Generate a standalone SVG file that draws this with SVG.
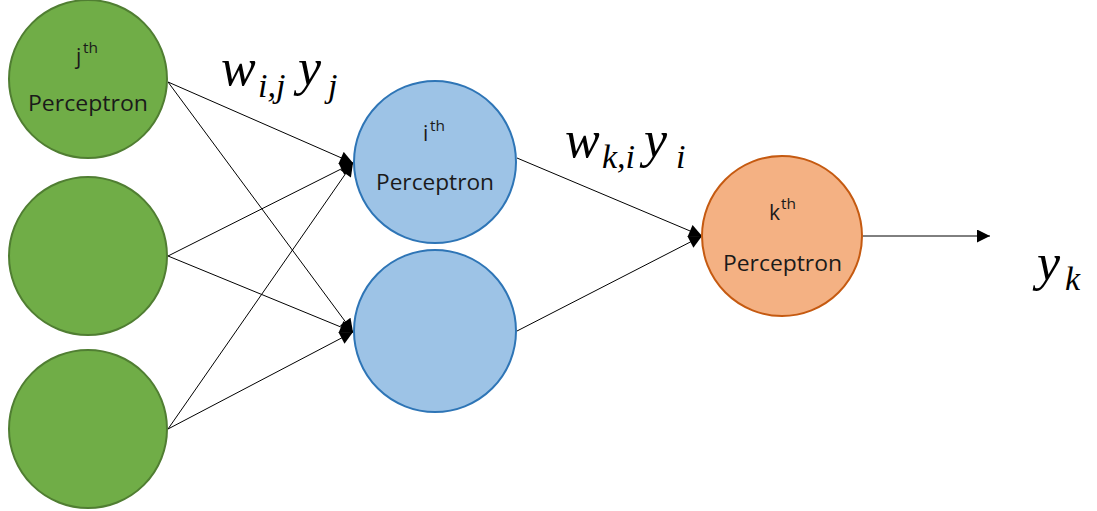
<svg xmlns="http://www.w3.org/2000/svg" width="1097" height="511" viewBox="0 0 1097 511">
  <style>
    .g { fill: #70AD47; stroke: #507E32; stroke-width: 2; }
    .b { fill: #9DC3E6; stroke: #2E75B6; stroke-width: 2; }
    .o { fill: #F4B183; stroke: #C55A11; stroke-width: 2; }
    .lbl { font-family: "Open Sans", "Liberation Sans", sans-serif; font-size: 21px; fill: #1a1a1a; }
    .sup { font-family: "Open Sans", "Liberation Sans", sans-serif; font-size: 14px; fill: #1a1a1a; }
    .m { font-family: "Liberation Serif", serif; font-style: italic; font-weight: normal; fill: #000; }
    .big { font-size: 52px; }
    .sub { font-size: 34px; }
    .edge { stroke: #000; stroke-width: 1; fill: none; marker-end: url(#arr); }
  </style>
  <defs>
    <marker id="arr" viewBox="0 0 10 10" refX="10" refY="5" markerWidth="15" markerHeight="13" markerUnits="userSpaceOnUse" orient="auto">
      <path d="M0,0 L10,5 L0,10 z" fill="#000"/>
    </marker>
  </defs>
  <rect width="1097" height="511" fill="#fff"/>
  <g id="connectors">
    <line class="edge" x1="168" y1="82" x2="353" y2="163"/>
    <line class="edge" x1="168" y1="82" x2="353" y2="332"/>
    <line class="edge" x1="168" y1="256" x2="353" y2="163"/>
    <line class="edge" x1="168" y1="256" x2="353" y2="332"/>
    <line class="edge" x1="168" y1="429" x2="353" y2="163"/>
    <line class="edge" x1="168" y1="429" x2="353" y2="332"/>
    <line class="edge" x1="517" y1="158" x2="702" y2="236"/>
    <line class="edge" x1="517" y1="331" x2="702" y2="236"/>
    <line class="edge" x1="863" y1="236" x2="990" y2="236"/>
  </g>
  <g id="node-j">
    <circle class="g" cx="88" cy="79" r="79"/>
    <text class="lbl" x="76" y="64">j</text>
    <text class="sup" x="83" y="53" textLength="15" lengthAdjust="spacingAndGlyphs">th</text>
    <text class="lbl" x="28" y="111" textLength="120" lengthAdjust="spacingAndGlyphs">Perceptron</text>
  </g>
  <g id="node-j2">
    <circle class="g" cx="88" cy="256" r="79"/>
  </g>
  <g id="node-j3">
    <circle class="g" cx="88" cy="429" r="79"/>
  </g>
  <g id="node-i">
    <circle class="b" cx="435" cy="162" r="81"/>
    <text class="lbl" x="423" y="141">i</text>
    <text class="sup" x="430" y="131" textLength="15" lengthAdjust="spacingAndGlyphs">th</text>
    <text class="lbl" x="376" y="190" textLength="118" lengthAdjust="spacingAndGlyphs">Perceptron</text>
  </g>
  <g id="node-i2">
    <circle class="b" cx="435" cy="331" r="81"/>
  </g>
  <g id="node-k">
    <circle class="o" cx="782" cy="236" r="80"/>
    <text class="lbl" x="769" y="220">k</text>
    <text class="sup" x="781" y="209" textLength="15" lengthAdjust="spacingAndGlyphs">th</text>
    <text class="lbl" x="723" y="271" textLength="119" lengthAdjust="spacingAndGlyphs">Perceptron</text>
  </g>
  <g id="labels">
    <text class="m big" x="221" y="85">w</text>
    <text class="m sub" x="258" y="97">i,j</text>
    <text class="m big" x="298" y="85">y</text>
    <text class="m sub" x="328" y="97">j</text>

    <text class="m big" x="565" y="157">w</text>
    <text class="m sub" x="602" y="168">k,i</text>
    <text class="m big" x="644" y="157">y</text>
    <text class="m sub" x="676" y="168">i</text>

    <text class="m big" x="1037" y="280">y</text>
    <text class="m sub" x="1065" y="290">k</text>
  </g>
</svg>
